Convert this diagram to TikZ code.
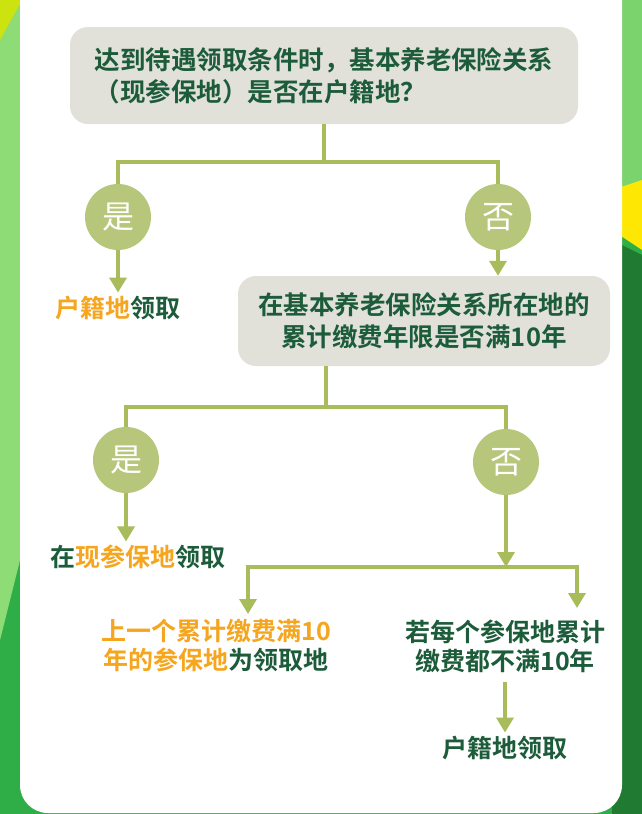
\documentclass[tikz,border=0pt]{standalone}
\usepackage{fontspec}
\setmainfont{Noto Sans CJK SC}[BoldFont={Noto Sans CJK SC Bold}]
\usetikzlibrary{arrows.meta}
\definecolor{olive}{HTML}{A9BC5C}
\definecolor{bubble}{HTML}{B6C77C}
\definecolor{boxgray}{HTML}{E1E1DA}
\definecolor{darkgreen}{HTML}{1D5C3A}
\definecolor{orangey}{HTML}{F5A51E}
\definecolor{leafgreen}{HTML}{2FAE48}
\definecolor{lightleaf}{HTML}{8EDC76}
\tikzset{
  question/.style={rounded corners=18pt,fill=boxgray,align=center,text=darkgreen,font=\bfseries\fontsize{25.5}{32}\selectfont},
  answer/.style={circle,fill=bubble,text=white,minimum size=66pt,inner sep=0pt,font=\fontsize{32}{34}\selectfont},
  result/.style={align=center,text=darkgreen,font=\bfseries\fontsize{25}{29}\selectfont},
  link/.style={olive,line width=3.5pt},
  flow/.style={link,-{Triangle[width=17pt,length=15pt]}}
}
\newcommand{\hl}[1]{\textcolor{orangey}{#1}}
\begin{document}
\begin{tikzpicture}[x=1pt,y=-1pt]
\useasboundingbox (0,0) rectangle (642,814);
% background
\fill[leafgreen] (0,0) rectangle (642,814);
\fill[lightleaf] (0,0) -- (30,0) -- (30,520) -- (0,640) -- cycle;
\fill[yellow!80!green] (0,0) -- (22,0) -- (0,40) -- cycle;
\fill[lightleaf!80!leafgreen] (612,0) rectangle (642,190);
\fill[yellow!90!orange] (612,190) -- (642,180) -- (642,250) -- (612,230) -- cycle;
\fill[leafgreen!70!black] (612,240) -- (642,255) -- (642,814) -- (612,814) -- cycle;
% white panel
\fill[white,rounded corners=28pt] (20,-40) rectangle (622,813);
% first question
\node[question,align=left,minimum width=508pt,minimum height=97pt] (q1) at (324,75.5)
  {达到待遇领取条件时，基本养老保险关系\\（现参保地）是否在户籍地？};
\coordinate (j1) at (324,162);
\node[answer] (yes1) at (118,217) {是};
\node[answer] (no1) at (498,217) {否};
\draw[link] (q1.south) -- (j1) -| (yes1.north);
\draw[link] (j1) -| (no1.north);
\node[result] (r1) at (118,308) {\hl{户籍地}领取};
\draw[flow] (yes1.south) -- (r1.north);
% second question
\node[question,minimum width=372pt,minimum height=90pt] (q2) at (424,321)
  {在基本养老保险关系所在地的\\累计缴费年限是否满10年};
\draw[flow] (no1.south) -- (q2.north -| no1);
\coordinate (j2) at (326,407);
\node[answer] (yes2) at (126,460) {是};
\node[answer] (no2) at (506,462) {否};
\draw[link] (q2.south -| j2) -- (j2) -| (yes2.north);
\draw[link] (j2) -| (no2.north);
\node[result] (r2) at (138,557) {在\hl{现参保地}领取};
\draw[flow] (yes2.south) -- (r2.north -| yes2);
% split
\coordinate (j3) at (506,567);
\draw[flow] (no2.south) -- (j3);
\node[result] (r3) at (216,646) {\hl{上一个累计缴费满10}\\\hl{年的参保地}为领取地};
\node[result] (r4) at (505,646) {若每个参保地累计\\缴费都不满10年};
\draw[flow] (j3) -| (248,614);
\draw[flow] (j3) -| (577,608);
\node[result] (r5) at (505,748) {户籍地领取};
\draw[flow] (r4.south) ++(0,6) -- (r5.north);
\end{tikzpicture}
\end{document}
